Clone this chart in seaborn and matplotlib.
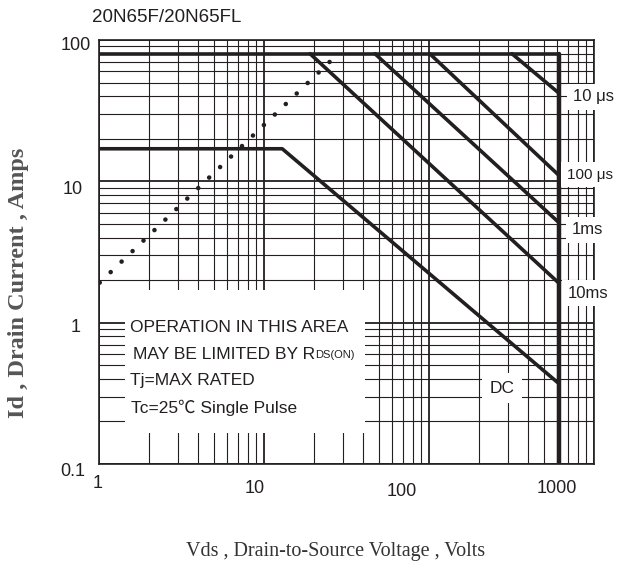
import matplotlib
matplotlib.use('Agg')
import matplotlib.pyplot as plt
import matplotlib.transforms as mtransforms
from matplotlib.patches import Rectangle
import seaborn as sns

# ---- values (Vds in volts, Id in amps) ----
v_limit = 614
id_pulse = 80

top_v = [1, v_limit]
top_i = [id_pulse, id_pulse]
vlim_v = [v_limit, v_limit]
vlim_i = [id_pulse, 0.1]

us10_v = [318, v_limit]
us10_i = [80, 42]
us100_v = [101, v_limit]
us100_i = [80, 11]
ms1_v = [47, v_limit]
ms1_i = [80, 5.1]
ms10_v = [19, v_limit]
ms10_i = [80, 1.9]
dc_v = [1, 12.9, v_limit]
dc_i = [17, 17, 0.37]

# Rds(on) limit (dotted)
rds_v = [1.01, 25]
rds_i = [1.92, 70]

x_ticks = [1, 10, 100, 1000]
x_ticklabels = ['1', '10', '100', '1000']
y_ticks = [0.1, 1, 10, 100]
y_ticklabels = ['0.1', '1', '10', '100']

ink = '#231f20'

sns.set_style('white')
plt.rcParams['font.family'] = ['Liberation Sans', 'Noto Sans CJK SC', 'DejaVu Sans']

fig = plt.figure(figsize=(6.25, 5.72), dpi=100)
ax = fig.add_axes([99/625, 1-464/572, 495/625, 424/572])
ax.set_xscale('log')
ax.set_yscale('log')
ax.set_xlim(1, 1000)
ax.set_ylim(0.1, 100)

# grid
ax.set_axisbelow(True)
ax.grid(which='major', color=ink, lw=1.3)
ax.grid(which='minor', color=ink, lw=0.8)
for s in ax.spines.values():
    s.set_color(ink)
    s.set_linewidth(1.2)
    s.set_visible(True)

# SOA lines
thick = dict(color=ink, lw=2.6, estimator=None, sort=False, ax=ax)
sns.lineplot(x=top_v, y=top_i, **thick)
sns.lineplot(x=vlim_v, y=vlim_i, color=ink, lw=3.2, estimator=None, sort=False, ax=ax)
sns.lineplot(x=us10_v, y=us10_i, **thick)
sns.lineplot(x=us100_v, y=us100_i, **thick)
sns.lineplot(x=ms1_v, y=ms1_i, **thick)
sns.lineplot(x=ms10_v, y=ms10_i, **thick)
sns.lineplot(x=dc_v, y=dc_i, **thick)
sns.lineplot(x=rds_v, y=rds_i, color=ink, lw=3.3, estimator=None, sort=False, ax=ax,
             linestyle=(0, (0.01, 3.3)), dash_capstyle='round')

# ticks
ax.set_xticks(x_ticks)
ax.set_xticklabels(x_ticklabels)
ax.set_yticks(y_ticks)
ax.set_yticklabels(y_ticklabels)
ax.tick_params(which='both', length=0, labelsize=13, colors=ink)
ax.tick_params(axis='x', pad=10)
ax.tick_params(axis='y', pad=6)


def nudge(labels, shifts):
    for lab, (dx, dy) in zip(labels, shifts):
        off = mtransforms.ScaledTranslation(dx / 100, -dy / 100, fig.dpi_scale_trans)
        lab.set_transform(lab.get_transform() + off)


nudge(ax.get_xticklabels(), [(-1, -3), (-9, 2), (-27, 5), (-37, 2)])
nudge(ax.get_yticklabels(), [(-5, 6), (-10, 3), (-8, 6), (0, 3)])

# white note box
ax.add_patch(Rectangle((0.0525, 0.0731), 0.485, 0.337, transform=ax.transAxes,
                       facecolor='white', edgecolor='none', zorder=2))
note_kw = dict(transform=ax.transAxes, fontsize=12.5, color=ink, va='center', ha='left', zorder=3)
ax.text(0.0626, 0.323, 'OPERATION IN THIS AREA', **note_kw)
t_may = ax.text(0.0687, 0.259, 'MAY BE LIMITED BY R', **note_kw)
ax.annotate('DS(ON)', xy=(1, 0.12), xycoords=t_may, fontsize=8, color=ink,
            va='bottom', ha='left', zorder=3)
ax.text(0.0626, 0.198, 'Tj=MAX RATED', **note_kw)
ax.text(0.0646, 0.132, 'Tc=25℃ Single Pulse', **note_kw)

# curve labels
box = dict(boxstyle='square,pad=0.35', facecolor='white', edgecolor='none')
lab_kw = dict(transform=ax.transAxes, color=ink, va='center', ha='left', clip_on=False,
              bbox=box, zorder=4)
ax.text(0.9576, 0.8656, '10 μs', fontsize=12, **lab_kw)
ax.text(0.945, 0.682, '100 μs', fontsize=11, **lab_kw)
ax.text(0.9556, 0.552, '1ms', fontsize=12, **lab_kw)
ax.text(0.947, 0.403, '10ms', fontsize=12, **lab_kw)
ax.text(0.814, 0.179, 'DC', transform=ax.transAxes, color=ink, fontsize=12.5,
        va='center', ha='center', zorder=4,
        bbox=dict(boxstyle='square,pad=0.45', facecolor='white', edgecolor='none'))

# titles
fig.text(92/625, 1-18/572, '20N65F/20N65FL', fontsize=13.5, color=ink, va='center', ha='left')
ax.set_xlabel('Vds , Drain-to-Source Voltage , Volts', family='Liberation Serif',
              fontsize=14.5, color='#333333', va='center')
ax.xaxis.set_label_coords(0.477, -0.2075)
ax.set_ylabel('Id , Drain Current , Amps', family='Liberation Serif', fontweight='bold',
              fontsize=17.5, color='#555555', va='center')
ax.yaxis.set_label_coords(-0.162, 0.427)

fig.savefig('out.png', dpi=100)
plt.close(fig)
